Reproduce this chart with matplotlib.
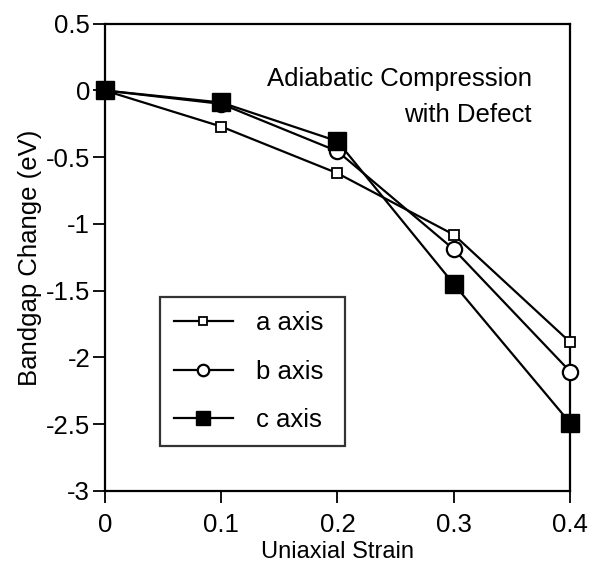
import matplotlib
matplotlib.use('Agg')
import matplotlib.pyplot as plt

plt.rcParams['font.family'] = ['Liberation Sans', 'DejaVu Sans']

# datos
strain = [0.0, 0.1, 0.2, 0.3, 0.4]
a_axis = [0.0, -0.27, -0.62, -1.08, -1.885]
b_axis = [0.0, -0.10, -0.455, -1.19, -2.105]
c_axis = [0.0, -0.09, -0.38, -1.45, -2.49]

xticks = [0, 0.1, 0.2, 0.3, 0.4]
xticklabels = ['0', '0.1', '0.2', '0.3', '0.4']
yticks = [0.5, 0, -0.5, -1, -1.5, -2, -2.5, -3]
yticklabels = ['0.5', '0', '-0.5', '-1', '-1.5', '-2', '-2.5', '-3']

fs = 18.5

fig = plt.figure(figsize=(5.92, 5.65), dpi=100)
ax = fig.add_axes([0.177, 0.131, 0.786, 0.827])

lw = 1.6
ax.plot(strain, a_axis, '-s', color='black', lw=lw, ms=7.5, mfc='white',
        mec='black', mew=1.3, label='a axis', clip_on=False, zorder=3)
ax.plot(strain, b_axis, '-o', color='black', lw=lw, ms=11, mfc='white',
        mec='black', mew=1.6, label='b axis', clip_on=False, zorder=4)
ax.plot(strain, c_axis, '-s', color='black', lw=lw, ms=13, mfc='black',
        mec='black', label='c axis', clip_on=False, zorder=5)

ax.set_xlim(0, 0.4)
ax.set_ylim(-3, 0.5)
ax.set_xticks(xticks)
ax.set_xticklabels(xticklabels)
ax.set_yticks(yticks)
ax.set_yticklabels(yticklabels)
ax.tick_params(direction='out', length=8.5, width=1.3, labelsize=fs, pad=2)
ax.tick_params(axis='x', pad=7)
for s in ax.spines.values():
    s.set_linewidth(1.6)

ax.set_xlabel('Uniaxial Strain', fontsize=17, labelpad=3)
ax.set_ylabel('Bandgap Change (eV)', fontsize=fs, labelpad=3)

ax.text(0.918, 0.882, 'Adiabatic Compression', transform=ax.transAxes,
        ha='right', va='center', fontsize=fs)
ax.text(0.918, 0.805, 'with Defect', transform=ax.transAxes,
        ha='right', va='center', fontsize=fs)

leg = ax.legend(loc='lower left', bbox_to_anchor=(0.118, 0.096, 0.398, 0.32),
                mode='expand', fontsize=fs,
                frameon=True, fancybox=False, edgecolor='black',
                handlelength=2.3, handletextpad=0.9, labelspacing=0.95,
                borderpad=0.55, borderaxespad=0, markerscale=0.75)
leg.get_frame().set_linewidth(1.6)

fig.savefig('out.png', dpi=100, facecolor='white')
